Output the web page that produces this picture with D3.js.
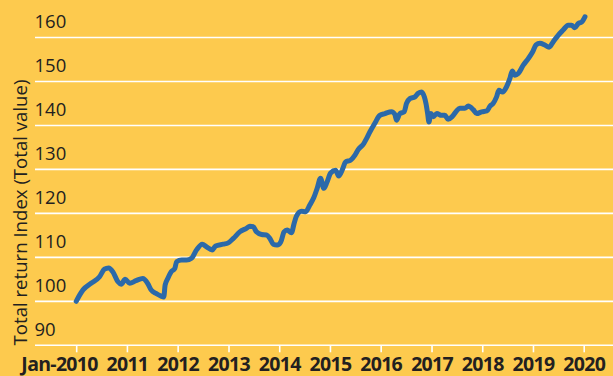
<!DOCTYPE html>
<html>
<head>
<meta charset="utf-8">
<script src="https://cdn.jsdelivr.net/npm/d3@7"></script>
<style>
  html, body { margin: 0; padding: 0; background: #fdca4e; }
  svg { display: block; }
</style>
</head>
<body>
<svg id="chart" width="613" height="376"></svg>
<script>
// Total return index, sampled along the series (date, index value)
const dates = [
  "2010-01-01","2010-02-19","2010-04-18","2010-06-18","2010-07-23","2010-08-22","2010-09-22","2010-10-27",
  "2010-11-21","2010-12-19","2011-01-21","2011-03-07","2011-04-25","2011-05-30","2011-06-24","2011-07-29",
  "2011-09-04","2011-09-23","2011-10-03","2011-10-22","2011-11-15","2011-12-12","2011-12-24","2012-01-30",
  "2012-03-05","2012-04-10","2012-05-16","2012-06-26","2012-07-27","2012-09-06","2012-09-30","2012-11-24",
  "2012-12-30","2013-02-05","2013-03-23","2013-05-10","2013-06-04","2013-06-27","2013-07-21","2013-08-27",
  "2013-10-02","2013-10-26","2013-11-19","2013-12-17","2014-01-12","2014-02-05","2014-02-27","2014-03-30",
  "2014-04-18","2014-05-05","2014-06-10","2014-07-11","2014-08-09","2014-09-07","2014-10-01","2014-10-25",
  "2014-11-18","2014-12-12","2015-01-06","2015-02-11","2015-03-05","2015-04-01","2015-04-23","2015-05-29",
  "2015-06-29","2015-07-23","2015-09-02","2015-09-21","2015-10-15","2015-11-20","2015-12-26","2016-02-01",
  "2016-03-19","2016-04-12","2016-04-24","2016-05-18","2016-06-18","2016-07-05","2016-07-29","2016-09-04",
  "2016-09-27","2016-10-22","2016-11-10","2016-11-22","2016-12-04","2016-12-13","2016-12-28","2017-01-14",
  "2017-02-08","2017-03-14","2017-04-07","2017-04-30","2017-05-29","2017-06-30","2017-07-23","2017-08-29",
  "2017-09-22","2017-10-28","2017-11-22","2017-12-28","2018-02-03","2018-02-26","2018-03-20","2018-04-14",
  "2018-05-01","2018-05-27","2018-06-25","2018-07-19","2018-08-05","2018-08-24","2018-09-17","2018-10-23",
  "2018-11-28","2018-12-29","2019-01-23","2019-02-20","2019-03-27","2019-04-27","2019-05-26","2019-07-01",
  "2019-08-06","2019-09-11","2019-10-06","2019-10-29","2019-11-23","2019-12-17","2020-01-10"
];
const values = [
  100.0,102.6,104.1,105.6,107.3,107.6,106.7,104.5,
  103.9,105.0,104.1,104.7,105.2,104.1,102.6,101.8,
  101.2,101.0,103.7,105.2,106.7,107.5,109.0,109.4,
  109.4,109.8,111.7,113.0,112.4,111.7,112.6,113.0,
  113.3,114.3,115.8,116.6,117.1,117.0,115.8,115.2,
  115.1,114.3,113.0,112.8,113.5,115.8,116.2,115.6,
  117.7,119.4,120.5,120.4,121.9,123.6,125.7,128.0,
  125.7,127.2,129.2,129.8,128.5,130.0,131.7,132.1,
  133.2,134.5,135.9,137.0,138.5,140.5,142.3,142.7,
  143.1,142.5,141.2,142.7,143.1,145.0,146.1,146.5,
  147.3,147.6,146.5,145.0,142.7,140.8,142.7,142.0,
  142.7,142.3,142.3,141.4,142.0,143.3,143.9,143.9,
  144.4,143.6,142.7,143.1,143.3,144.4,145.0,146.5,
  148.0,147.6,148.8,150.7,152.4,151.4,151.8,153.7,
  155.2,156.7,158.3,158.7,158.3,157.8,159.0,160.5,
  161.7,162.8,162.8,162.2,163.2,163.5,164.7
];

// Axis ticks and labels
const yTicks = [90, 100, 110, 120, 130, 140, 150, 160];
const xTickDates = ["2010-01-01","2011-01-01","2012-01-01","2013-01-01","2014-01-01","2015-01-01",
                    "2016-01-01","2017-01-01","2018-01-01","2019-01-01","2020-01-01"];
const xTickLabels = ["Jan-2010","2011","2012","2013","2014","2015","2016","2017","2018","2019","2020"];
const yTitle = "Total return Index (Total value)";

const W = 613, H = 376;
const parse = d3.utcParse("%Y-%m-%d");
const series = dates.map((d, i) => ({ date: parse(d), value: values[i] }));

const x = d3.scaleUtc()
  .domain([parse("2010-01-01"), parse("2020-01-01")])
  .range([76.2, 583.7]);
const y = d3.scaleLinear()
  .domain([90, 160])
  .range([345.3, 37.5]);

const svg = d3.select("#chart");
const textColor = "#231f20";
const font = "'Open Sans', 'DejaVu Sans', sans-serif";

svg.append("rect").attr("width", W).attr("height", H).attr("fill", "#fdca4e");

// Horizontal gridlines with labels sitting above them
const grid = svg.append("g");
grid.selectAll("line")
  .data(yTicks)
  .join("line")
  .attr("x1", 35).attr("x2", W)
  .attr("y1", d => y(d)).attr("y2", d => y(d))
  .attr("stroke", "#ffffff").attr("stroke-width", 1.6);
grid.selectAll("text")
  .data(yTicks)
  .join("text")
  .attr("x", 34.5)
  .attr("y", d => y(d) - 9.5)
  .attr("fill", textColor)
  .style("font-family", font)
  .style("font-size", "18.5px")
  .text(d => d);

// Bottom time axis: white ticks, bold year labels
const xAxis = d3.axisBottom(x)
  .tickValues(xTickDates.map(parse))
  .tickSize(7)
  .tickFormat((d, i) => xTickLabels[i]);
const gx = svg.append("g")
  .attr("transform", `translate(0,${y(90)})`)
  .call(xAxis);
gx.select(".domain").remove();
gx.selectAll(".tick line").attr("stroke", "#ffffff").attr("stroke-width", 1.6);
gx.selectAll(".tick text")
  .attr("fill", textColor)
  .attr("y", 0)
  .attr("dy", 0)
  .attr("transform", "translate(0,26)")
  .style("font-family", font)
  .style("font-weight", "700")
  .style("font-size", "19.5px")
  .style("letter-spacing", "-0.7px");
gx.selectAll(".tick text").filter((d, i) => i === 0)
  .attr("text-anchor", "end")
  .attr("dx", 21);

// Rotated y-axis title
svg.append("text")
  .attr("transform", "translate(27,212.5) rotate(-90)")
  .attr("text-anchor", "middle")
  .attr("fill", textColor)
  .style("font-family", font)
  .style("font-size", "18.6px")
  .text(yTitle);

// Index line
const line = d3.line()
  .x(d => x(d.date))
  .y(d => y(d.value))
  .curve(d3.curveMonotoneX);
svg.append("path")
  .datum(series)
  .attr("d", line)
  .attr("fill", "none")
  .attr("stroke", "#2b69a9")
  .attr("stroke-width", 5)
  .attr("stroke-linejoin", "round")
  .attr("stroke-linecap", "round");
</script>
</body>
</html>
